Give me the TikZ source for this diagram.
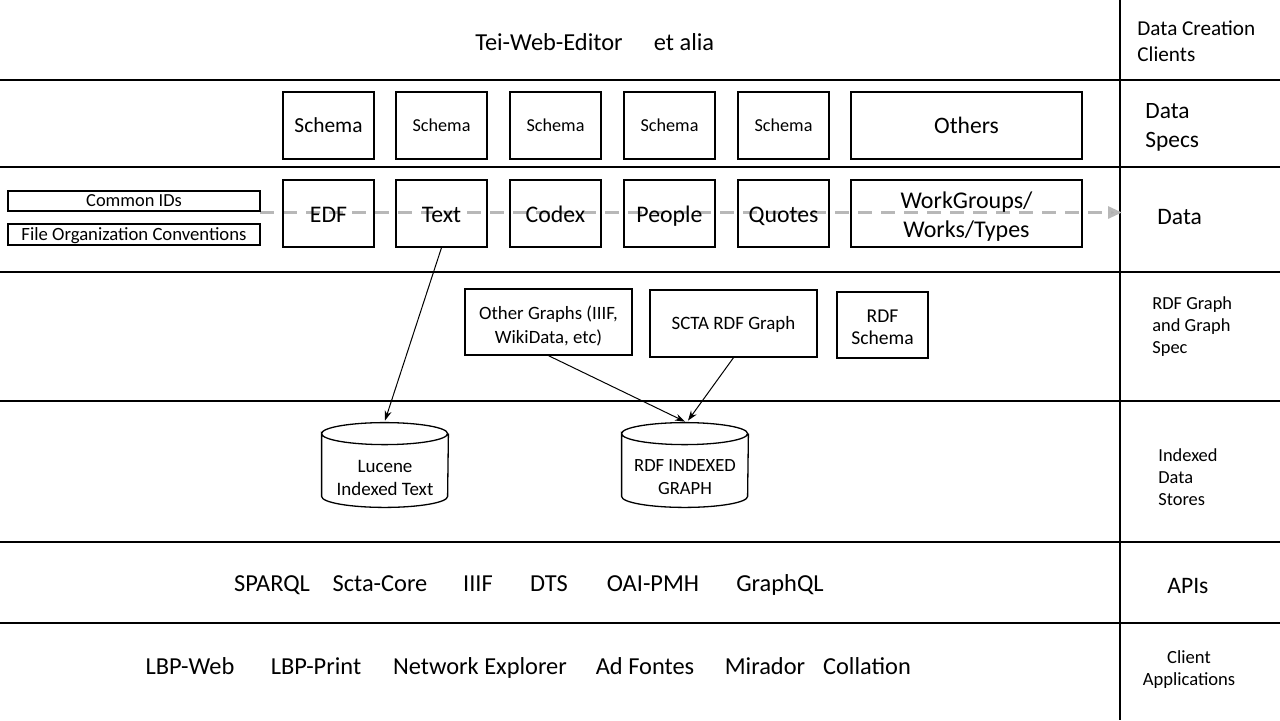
\documentclass[tikz,border=0pt]{standalone}
\usepackage{fontspec}
\setmainfont{Carlito}
\usetikzlibrary{arrows.meta}
\newcommand\fsz[2]{\fontsize{#1}{#2}\selectfont}
\begin{document}
\begin{tikzpicture}[x=0.5pt,y=-0.5pt,
  sep/.style={line width=0.75pt},
  box/.style={draw,line width=0.65pt,inner sep=0pt,align=center},
  sq/.style={box,minimum width=45.5pt,minimum height=33.5pt},
  one/.style={text height=#1,text depth=0pt},
  lbl/.style={inner sep=0pt,align=left,anchor=west},
  txt/.style={inner sep=0pt,align=center},
  big/.style={inner sep=0pt,anchor=base,font=\fsz{12.2}{14}},
  dtext/.style={box,sq,font=\fsz{11.9}{14},one=9.2pt},
  conn/.style={line width=0.5pt,-{Stealth[length=5pt,width=3.5pt]}},
  cyl/.style={line width=0.65pt}
]
\useasboundingbox (0,0) rectangle (1280,720);
% separators
\foreach \yy in {80,167,272,401,542,623} \draw[sep] (0,\yy) -- (1280,\yy);
\draw[sep] (1120,0) -- (1120,720);

% dashed data arrow (behind the boxes' text)
\coordinate (dA) at (260,212.5);
\coordinate (dB) at (1122,212.5);
\draw[draw=black!28,line width=1.5pt,dash pattern=on 7pt off 4.5pt,
  -{Triangle[length=7pt,width=6pt,fill=black!32]}] (dA) -- (dB);

% right labels
\node[lbl,font=\fsz{10.6}{13}] (l1) at (1137,41.5) {Data Creation\\Clients};
\node[lbl,font=\fsz{11.7}{14.5}] (l2) at (1145,127) {Data\\Specs};
\node[lbl,font=\fsz{11.8}{14},one=7.6pt] (l3) at (1157,217) {Data};
\node[lbl,font=\fsz{9.2}{11}] (l4) at (1152,327) {RDF Graph\\and Graph\\Spec};
\node[lbl,font=\fsz{9.2}{11}] (l5) at (1158,477) {Indexed\\Data\\Stores};
\node[lbl,font=\fsz{11.8}{14},one=7.6pt] (l6) at (1167,586) {APIs};
\node[txt,font=\fsz{9.3}{11}] (l7) at (1189,670) {Client\\Applications};

% row 1
\node[big] (tei) at (549,50.5) {Tei-Web-Editor};
\node[big] (eta) at (684,50.5) {et alia};

% row 2
\node[sq,font=\fsz{10.7}{12},one=6.9pt] (s1) at (328.5,125.5) {Schema};
\node[sq,font=\fsz{9.1}{11},one=5.9pt] (s2) at (441.5,125.5) {Schema};
\node[sq,font=\fsz{9.1}{11},one=5.9pt] (s3) at (555.5,125.5) {Schema};
\node[sq,font=\fsz{9.1}{11},one=5.9pt] (s4) at (669.5,125.5) {Schema};
\node[sq,font=\fsz{9.1}{11},one=5.9pt] (s5) at (783.5,125.5) {Schema};
\node[box,minimum width=115.5pt,minimum height=33.5pt,font=\fsz{11.8}{14},one=7.6pt] (oth) at (966.5,125.5) {Others};

% row 3
\node[box,minimum width=126pt,minimum height=10pt,font=\fsz{9.2}{10},one=5.9pt] (cid) at (134,201) {Common IDs};
\node[box,minimum width=126pt,minimum height=10.5pt,font=\fsz{9.35}{10},one=6pt] (foc) at (134,234.5) {File Organization Conventions};
\node[dtext] (edf) at (328.5,213.5) {EDF};
\node[dtext] (text) at (441.5,213.5) {Text};
\node[dtext] (codex) at (555.5,213.5) {Codex};
\node[dtext] (people) at (669.5,213.5) {People};
\node[dtext] (quotes) at (783.5,213.5) {Quotes};
\node[box,minimum width=115.5pt,minimum height=33.5pt] (wg) at (966.5,213.5) {};
\node[txt,font=\fsz{12}{14.5}] (wgt) at (966.5,217) {WorkGroups/\\Works/Types};

% row 4
\node[box,minimum width=83.5pt,minimum height=33pt] (og) at (548.5,322) {};
\node[txt,font=\fsz{9.4}{12}] (ogt) at (548.5,326) {Other Graphs (IIIF,\\WikiData, etc)};
\node[box,minimum width=83.5pt,minimum height=33.5pt,font=\fsz{9.45}{11},one=6.1pt] (scta) at (733.5,323.5) {SCTA RDF Graph};
\node[box,minimum width=45.5pt,minimum height=33pt] (rdfs) at (882.5,325) {};
\node[txt,font=\fsz{9.8}{11}] (rdfst) at (882.5,327.5) {RDF\\Schema};

% row 5 cylinders
\node[inner sep=0pt,minimum width=63pt,minimum height=42pt] (luc) at (385,465) {};
\node[inner sep=0pt,minimum width=63pt,minimum height=42pt] (rdf) at (685,465) {};
\foreach \c in {luc,rdf}{
  \draw[cyl] ([yshift=-5.5pt]\c.north west) arc[start angle=180,end angle=-180,x radius=31.5pt,y radius=5.5pt]
    -- ([yshift=5.5pt]\c.south west) arc[start angle=180,end angle=360,x radius=31.5pt,y radius=5.5pt]
    -- ([yshift=-5.5pt]\c.north east);
}
\node[txt,font=\fsz{9.5}{11.5}] (luct) at (385,477.5) {Lucene\\Indexed Text};
\node[txt,font=\fsz{9.3}{11.5}] (rdft) at (685,477.5) {RDF INDEXED\\GRAPH};

% connectors
\draw[conn] (text.south) -- ([yshift=1pt]luc.north);
\draw[conn] (og.south) -- ([yshift=0.5pt]rdf.north);
\draw[conn] (scta.south) -- ([xshift=1.5pt,yshift=1pt]rdf.north);

% row 6
\node[big] (a1) at (272,591) {SPARQL};
\node[big] (a2) at (380,591) {Scta-Core};
\node[big] (a3) at (478,591) {IIIF};
\node[big] (a4) at (549,591) {DTS};
\node[big] (a5) at (653,591) {OAI-PMH};
\node[big] (a6) at (780,591) {GraphQL};

% row 7
\node[big] (c1) at (190,674) {LBP-Web};
\node[big] (c2) at (316,674) {LBP-Print};
\node[big] (c3) at (480,674) {Network Explorer};
\node[big] (c4) at (645,674) {Ad Fontes};
\node[big] (c5) at (765,674) {Mirador};
\node[big] (c6) at (867,674) {Collation};
\end{tikzpicture}
\end{document}
